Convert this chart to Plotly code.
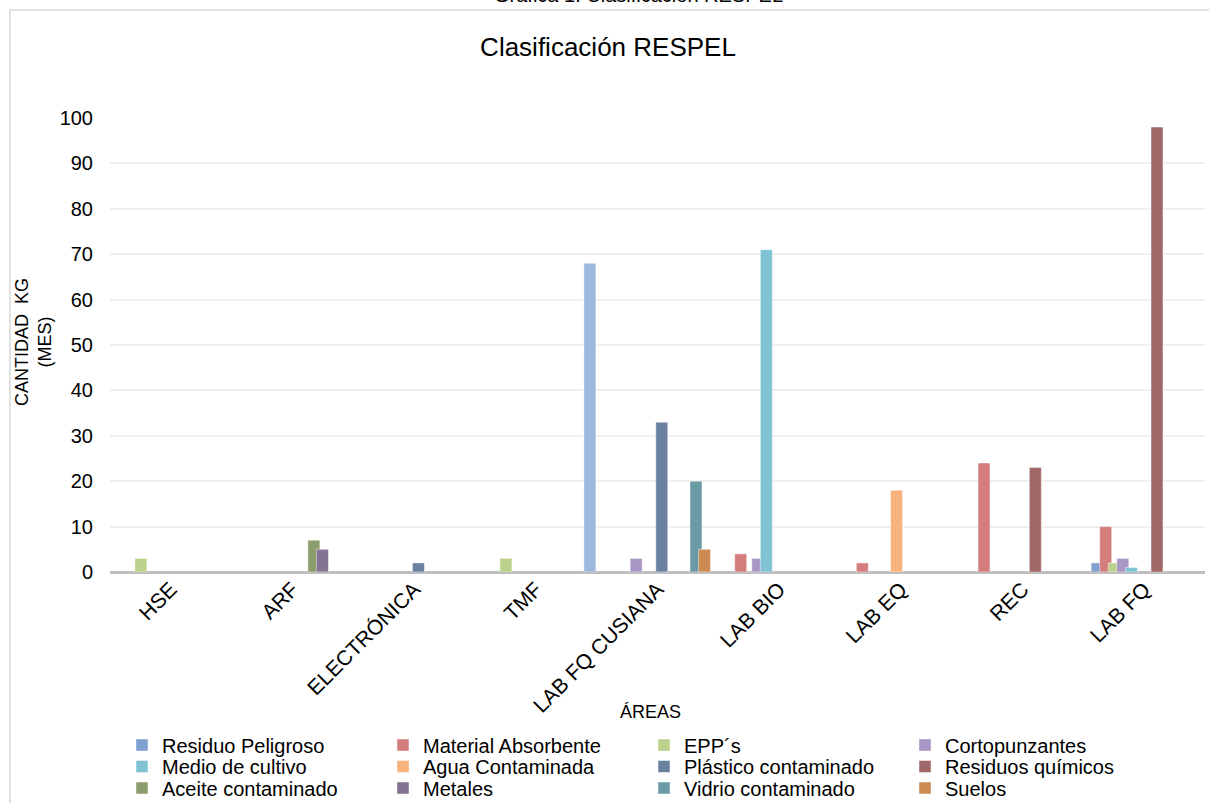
import plotly.graph_objects as go

categories = ["HSE", "ARF", "ELECTRÓNICA", "TMF", "LAB FQ CUSIANA", "LAB BIO", "LAB EQ", "REC", "LAB FQ"]

series_names = ["Residuo Peligroso", "Material Absorbente", "EPP´s", "Cortopunzantes",
                "Medio de cultivo", "Agua Contaminada", "Plástico contaminado", "Residuos químicos",
                "Aceite contaminado", "Metales", "Vidrio contaminado", "Suelos"]

residuo_peligroso = [None, None, None, None, 68, None, None, None, 2]
material_absorbente = [None, None, None, None, None, 4, 2, 24, 10]
epps = [3, None, None, 3, None, None, None, None, 2]
cortopunzantes = [None, None, None, None, 3, 3, None, None, 3]
medio_cultivo = [None, None, None, None, None, 71, None, None, 1]
agua_contaminada = [None, None, None, None, None, None, 18, None, None]
plastico = [None, None, 2, None, 33, None, None, None, None]
residuos_quimicos = [None, None, None, None, None, None, None, 23, 98]
aceite = [None, 7, None, None, None, None, None, None, None]
metales = [None, 5, None, None, None, None, None, None, None]
vidrio = [None, None, None, None, 20, None, None, None, None]
suelos = [None, None, None, None, 5, None, None, None, None]

series_values = [residuo_peligroso, material_absorbente, epps, cortopunzantes, medio_cultivo,
                 agua_contaminada, plastico, residuos_quimicos, aceite, metales, vidrio, suelos]

colors = ["#7f9fcf", "#d47d7d", "#bad28c", "#a896c6", "#7fc3d5", "#f8b27c",
          "#6b81a1", "#a06868", "#8c9c6c", "#827492", "#6a9aa3", "#cd8a52"]

y_ticks = [0, 10, 20, 30, 40, 50, 60, 70, 80, 90, 100]

W, H = 1209, 803
L, R, T, B = 110, 4, 118, 231
pw = W - L - R
ph = H - T - B
cat_px = pw / len(categories)
bar_w = 12 / cat_px
step = 8.55 / cat_px

legend_ids = ["legend", "legend2", "legend3"]

fig = go.Figure()
for k, (name, vals, col) in enumerate(zip(series_names, series_values, colors)):
    off = (k - 5.5) * step - bar_w / 2
    offsets = [off] * len(categories)
    mcolors = [col] * len(categories)
    if k == 0:
        # the tall bar in LAB FQ CUSIANA sits left of its group in the reference
        offsets[4] = -67.6 / cat_px - bar_w / 2
        mcolors[4] = "#9cb8dc"
    fig.add_trace(go.Bar(
        x=categories, y=vals, name=name,
        width=bar_w, offset=offsets,
        marker=dict(color=mcolors, line=dict(color="rgba(255,255,255,0.45)", width=1)),
        legend=legend_ids[k // 4],
    ))

px2x = lambda p: (p - L) / pw
py2y = lambda p: (H - B - p) / ph

def legend_row(yc):
    return dict(orientation="h", x=px2x(122), xanchor="left", y=py2y(yc), yanchor="middle",
                entrywidth=216, entrywidthmode="pixels",
                font=dict(size=20, color="#000000"), tracegroupgap=0,
                itemwidth=30, bgcolor="rgba(0,0,0,0)")

fig.update_layout(
    width=W, height=H,
    margin=dict(l=L, r=R, t=T, b=B, autoexpand=False),
    barmode="overlay",
    paper_bgcolor="white", plot_bgcolor="white",
    font=dict(family="Liberation Sans, Arial, sans-serif", color="#000000", size=18),
    title=dict(text="Clasificación RESPEL", x=608 / W, xanchor="center",
               y=1 - 47 / H, yanchor="middle",
               font=dict(size=26, color="#000000")),
    showlegend=True,
    legend=legend_row(745),
    legend2=legend_row(766.5),
    legend3=legend_row(788),
    xaxis=dict(type="category", range=[-0.5, len(categories) - 0.5], automargin=False,
               tickangle=-45, tickfont=dict(size=21, color="#000000"),
               showgrid=False, showline=False, ticks="", zeroline=False),
    yaxis=dict(range=[0, 100], tickvals=y_ticks, tickfont=dict(size=20, color="#000000"),
               automargin=False,
               showgrid=True, gridcolor="#efefef", gridwidth=1.5,
               zeroline=True, zerolinecolor="#bfbfbf", zerolinewidth=3,
               showline=False, ticks="", ticklabelstandoff=16),
    shapes=[dict(type="rect", xref="paper", yref="paper",
                 x0=px2x(10), x1=px2x(W + 20), y0=py2y(H + 20), y1=py2y(10),
                 line=dict(color="#d9d9d9", width=1.5), fillcolor="rgba(0,0,0,0)", layer="below")],
    annotations=[
        dict(text="Gráfica 1. Clasificación RESPEL", xref="paper", yref="paper",
             x=px2x(638), y=py2y(-5), xanchor="center", yanchor="middle",
             showarrow=False, font=dict(size=20, color="#000000")),
        dict(text="CANTIDAD  KG<br>(MES)", xref="paper", yref="paper",
             x=px2x(33), y=py2y(342), xanchor="center", yanchor="middle",
             textangle=-90, showarrow=False, font=dict(size=18, color="#000000")),
        dict(text="ÁREAS", xref="paper", yref="paper",
             x=px2x(650), y=py2y(712), xanchor="center", yanchor="middle",
             showarrow=False, font=dict(size=18, color="#000000")),
    ],
)

fig.write_html("out.html", config={"displayModeBar": False},
               post_script="document.body.style.margin='0';document.body.style.overflow='hidden';")
